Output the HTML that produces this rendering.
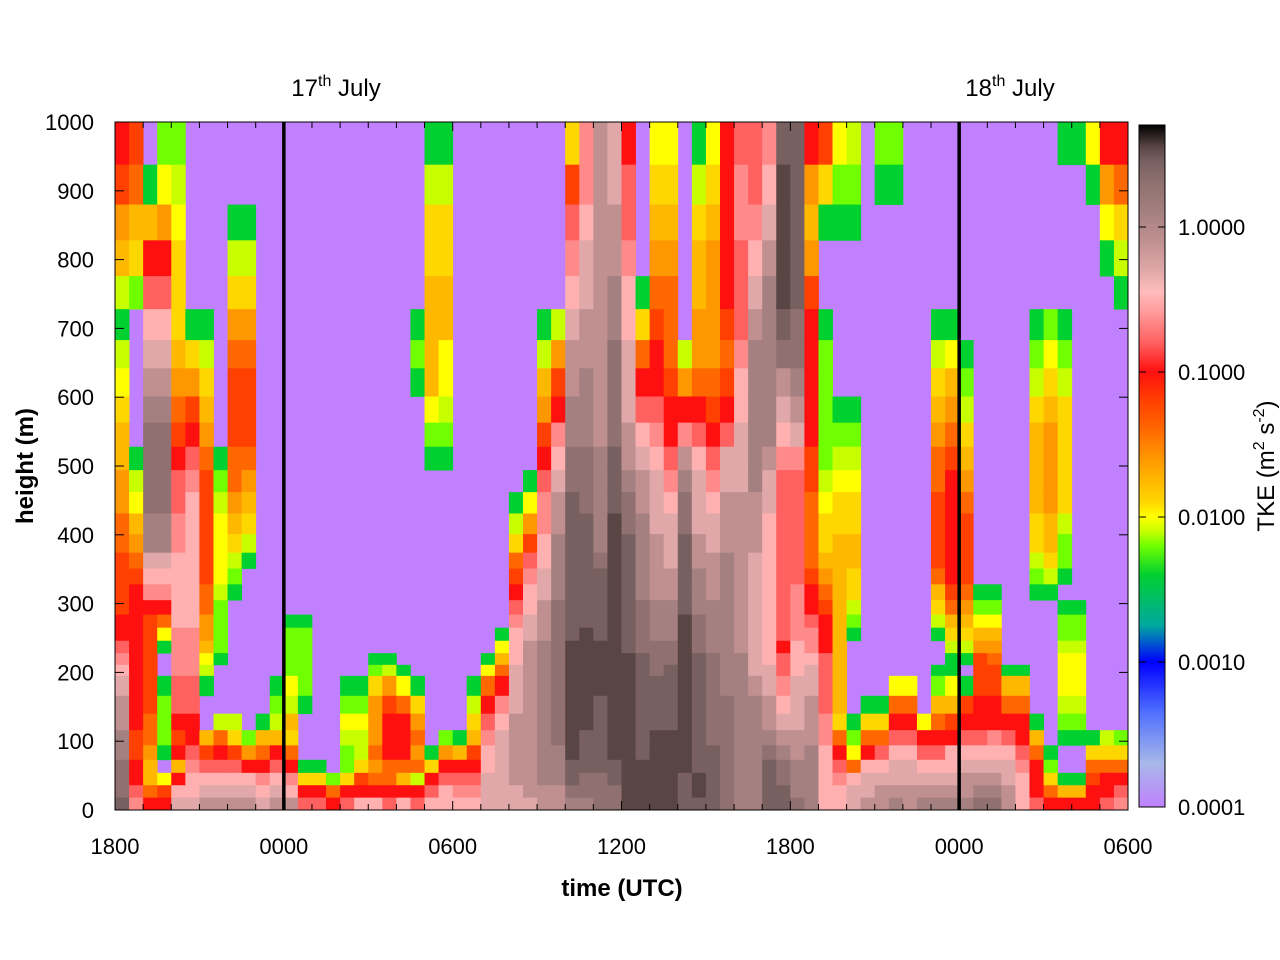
<!DOCTYPE html>
<html><head><meta charset="utf-8">
<style>
html,body{margin:0;padding:0;background:#fff;}
svg{display:block;font-family:"Liberation Sans",sans-serif;}
</style></head>
<body>
<svg id="chart" width="1280" height="960" viewBox="0 0 1280 960" xmlns="http://www.w3.org/2000/svg">
<g id="cells"></g>
<g id="axes"></g>
<g id="cbar"></g>
<text x="622" y="896" font-size="24" font-weight="bold" text-anchor="middle">time (UTC)</text>
<text transform="translate(33,466) rotate(-90)" font-size="24" font-weight="bold" text-anchor="middle">height (m)</text>
<text x="336" y="96" font-size="24" text-anchor="middle">17<tspan font-size="16" dy="-10">th</tspan><tspan dy="10"> July</tspan></text>
<text x="1010" y="96" font-size="24" text-anchor="middle">18<tspan font-size="16" dy="-10">th</tspan><tspan dy="10"> July</tspan></text>
<text transform="translate(1274,466) rotate(-90)" font-size="24" text-anchor="middle">TKE (m<tspan font-size="16" dy="-10">2</tspan><tspan dy="10"> s</tspan><tspan font-size="16" dy="-10">-2</tspan><tspan dy="10">)</tspan></text>
</svg>
<script>
// height-level edges (m), top to bottom
const heightEdges = [1000,938,880,828,776,728,683,642,601,563,528,494,462,431,401,374,351,328,305,284,265,246,228,211,195,166,140,116,94,73,54,36,18,0];
// column start times in hours after 1800 (half-hour columns)
const colStep = 0.5;
// level code -> log10(TKE)
const levelCodes = ".glvyYaoOerstkqmndDx";
const levelLog = [-4,-2.4,-2.2,-2.1,-2.0,-1.9,-1.75,-1.6,-1.4,-1.2,-1.0,-0.8,-0.65,-0.5,-0.3,-0.1,0.1,0.3,0.45,0.55];
const D = n => ".".repeat(n);
// each column: levels top (1000 m) to bottom (0 m)
const columns = [
"reoavgvyYaaooOOeeeerrstkqmmnndddD",
"eOaYl.....gvyaoOerrrrrrrrrreerrst",
".garskqmnddddnnqktreeeeeeeOOoaaOr",
"lyorskqmnddddnnqktrOyg..glllg.yer",
"lvyYYYaoOerssttkkkkkttttssrerarkq",
".....gYoerstkkkkkkkkttttssrrstkkq",
".....gvYaoOeeeeeeOOooayvg..aeskqm",
"..........glvyyyyvllllg...vOrskqm",
"..gvYoOeeeOOoaYvlg........vYeskqm",
"..gvYoOeeeOoaYvg...........lorkqm",
D(26)+"gaOrtkq",
D(24)+"glvarskqm",
D(19)+"gllllyvaYOrtkm",
D(19)+"glllllg...gYrs",
D(29)+"gYrs",
D(30)+"lOr",
D(24)+"glyvllYrs",
D(24)+"glyvvYerk",
D(22)+"glYoooOoOrk",
D(22)+"gvoerrrOOrs",
D(23)+"gyOrrrOark",
"....."+"glg"+D(16)+"gYoOoOvrs",
"gvYYaaaaylg"+D(17)+"gYrsk",
"gvYYaayyvlg"+D(16)+"lorskk",
D(27)+"garstk",
D(24)+"gvYaerstk",
D(22)+"gyOrstkkqqq",
D(20)+"gyaOrtkqqqqqq",
D(12)+"gvYOerstkkkqqqmmmmmqq",
D(11)+"gyoestkkqqmmmmmmmmmmmq",
D(5)+"gvaoersttkkqqmmmnnnnnnnnnnmm",
D(5)+"voertkqmmnnnnddddddddddnnnmm",
"YestkqmmnnddDDDDDDDDDxxxxxxxxDDdn",
"ttkqqmmnnndddDDDDDDDxxxxxxxDDDddn",
"mmmmmmmmmmnnnnndDDDDDxxxxDDDDDddd",
"qqmmnnddddDDDxxxxxxxxxxxxxxxxDDdd",
"rsstkkqqqmmnddDDDDDDDDxxxxxxxxxxx",
"....gYOrskqmmnnnnnddddDDDDDDDxxxx",
"yYaoOerrstkqqqmmmmnnndddDDDxxxxxx",
"yYaoOOOerrstkqqqmmnnnddDDDDxxxxxx",
"......vortmnddDDDDDxxxxxxxxxxxDDD",
"gvYaaooOrskqqqmmnnndddDDDDDDDDxxD",
"yYaooooOerstkqqmmmnnnnddddddDDDDD",
"rrrrreOersqqmmmnnnnnnnnnnddddddddd".slice(0,33),
"sttssstkkqqqmmmmmmmmmmnnnnnnnnnnn",
"sstkqmnnnnnnmmmqqqqqqqqqmnnnnnnnn",
"tkqmnnnnnnmqqkkkkkkkkkkqqmmndDDDD",
"DxxxxDdmqktssssssssssrsstkqmnddDD",
"DDDDDddnmqtssssssttttkkkqqqmmnnndd".slice(0,33),
"roaoerrrrreeOOOOerrsttkqqmmmnnnnn",
"eYg..glllllvyYYaoOerrrssssttkkkkkq".slice(0,33),
"ylg.....glvyYYaaaaaaaaaaaaYOrstkk",
"vlg.....glvyYYaaYYvlg.....glyOkqq",
D(25)+"gYOrkqqm",
"lg"+D(23)+"gYOskqmm",
"lg"+D(22)+"yOrskqqmn",
D(24)+"yOrskqqmm",
D(26)+"yrskqmn",
".....gvYaoOOeeeeOaYvg..glaOrskqmn",
".....gyaoOerrrrrreOaYvggyaerkkqmn",
"......glvYaoOeeeeOoaYvg.gerskqmmn",
D(17)+"glyaoeeerrskqmnd",
D(17)+"glyaoOeerrtkqmnd",
D(23)+"gaOrskqqmm",
D(23)+"gaOrrstkkk",
"....."+"glvYaaaaYYvlg"+D(8)+"gaOrrrs",
"....."+"lyYaooooaaYvg"+D(10)+"glYOr",
"g...."+"glvYYYYYvllg"+"."+"gllvyyyvlg"+"..gar",
"g"+D(17)+"gllvyyyvlg"+"..gar",
"yg"+D(25)+"gYOerr",
"royg"+D(23)+"vYOrrs",
"rOYvg"+D(22)+"lYOrst"
];
const cbTicks = [1, 0.1, 0.01, 0.001, 0.0001];
const cbTickLabels = ["1.0000","0.1000","0.0100","0.0010","0.0001"];
const xTickHours = [0,6,12,18,24,30,36];
const xTickLabels = ["1800","0000","0600","1200","1800","0000","0600"];
const yTicks = [0,100,200,300,400,500,600,700,800,900,1000];
const midnightHours = [6,30];

// colour scale stops (log10 value -> colour)
const stopLog = [-4,-3.7,-3.35,-3.0,-2.75,-2.4,-2.2,-2.1,-2.0,-1.9,-1.75,-1.6,-1.4,-1.2,-1.0,-0.8,-0.6,-0.45,-0.3,-0.1,0.1,0.3,0.45,0.55,0.7];
const stopCol = ["#c080ff","#a8b8e8","#5070ff","#0000ff","#00a8a0","#00d030","#70ff00","#c8ff00","#ffff00","#ffd700","#ffb800","#ff9800","#ff6800","#ff4000","#ff1010","#ff6060","#ff9898","#ffbcbc","#e0a8a8","#c09090","#a58080","#907070","#786060","#5a4545","#000000"];

const X0=115,X1=1128,Y0=122,Y1=810;
const xs = h => X0 + h*(X1-X0)/36;
const ys = m => Y1 - m*(Y1-Y0)/1000;
const cbY = lg => 807 - (lg+4)*145;
function hex(c){return [1,3,5].map(i=>parseInt(c.substr(i,2),16));}
function colorOf(lg){
  if(lg<=stopLog[0]) return stopCol[0];
  for(let i=1;i<stopLog.length;i++){
    if(lg<=stopLog[i]){
      const t=(lg-stopLog[i-1])/(stopLog[i]-stopLog[i-1]);
      const a=hex(stopCol[i-1]),b=hex(stopCol[i]);
      return "rgb("+a.map((v,k)=>Math.round(v+(b[k]-v)*t)).join(",")+")";
    }
  }
  return stopCol[stopCol.length-1];
}
const NS="http://www.w3.org/2000/svg";
function mk(tag,attrs,parent){const e=document.createElementNS(NS,tag);for(const k in attrs)e.setAttribute(k,attrs[k]);parent.appendChild(e);return e;}

const cells=document.getElementById('cells');
mk('rect',{x:X0,y:Y0,width:X1-X0,height:Y1-Y0,fill:"#c080ff"},cells);
columns.forEach((col,ci)=>{
  for(let r=0;r<heightEdges.length-1;r++){
    const code=col[r]||'.';
    if(code==='.') continue;
    const lg=levelLog[levelCodes.indexOf(code)];
    const xa=xs(ci*colStep), xb=xs((ci+1)*colStep);
    const ya=ys(heightEdges[r]), yb=ys(heightEdges[r+1]);
    const el=mk('rect',{x:xa.toFixed(2),y:ya.toFixed(2),width:(xb-xa+0.4).toFixed(2),height:(yb-ya+0.4).toFixed(2),fill:colorOf(lg)},cells);
    
    
  }
});

const axes=document.getElementById('axes');
midnightHours.forEach(h=>{
  const l=mk('line',{x1:xs(h),x2:xs(h),y1:Y0,y2:Y1,stroke:"#000","stroke-width":3.5},axes);
  
  
});
mk('rect',{x:X0,y:Y0,width:X1-X0,height:Y1-Y0,fill:"none",stroke:"#000","stroke-width":1},axes);
for(let h=0;h<=36;h++){
  const len = xTickHours.includes(h)?9:6;
  mk('line',{x1:xs(h),x2:xs(h),y1:Y1,y2:Y1-len,stroke:"#000"},axes);
  mk('line',{x1:xs(h),x2:xs(h),y1:Y0,y2:Y0+len,stroke:"#000"},axes);
}
xTickHours.forEach((h,i)=>{
  const t=mk('text',{x:xs(h),y:854,"font-size":22,"text-anchor":"middle"},axes);
  t.textContent=xTickLabels[i];
  
  
});
yTicks.forEach(m=>{
  mk('line',{x1:X0,x2:X0+9,y1:ys(m),y2:ys(m),stroke:"#000"},axes);
  mk('line',{x1:X1,x2:X1-9,y1:ys(m),y2:ys(m),stroke:"#000"},axes);
  const t=mk('text',{x:94,y:ys(m)+8,"font-size":22,"text-anchor":"end"},axes);
  t.textContent=String(m);
  
  
});

const cb=document.getElementById('cbar');
const defs=mk('defs',{},cb);
const grad=mk('linearGradient',{id:"cbg",x1:0,y1:1,x2:0,y2:0},defs);
stopLog.forEach((lg,i)=>{mk('stop',{offset:((lg+4)/4.7).toFixed(4),"stop-color":stopCol[i]},grad);});
mk('rect',{x:1139,y:125,width:26,height:682,fill:"url(#cbg)",stroke:"#000","stroke-width":1},cb);
cbTicks.forEach((v,i)=>{
  const y=cbY(Math.log10(v));
  mk('line',{x1:1139,x2:1146,y1:y,y2:y,stroke:"#000"},cb);
  mk('line',{x1:1165,x2:1158,y1:y,y2:y,stroke:"#000"},cb);
  const t=mk('text',{x:1178,y:y+8,"font-size":22},cb);
  t.textContent=cbTickLabels[i];
  
  
});
</script>
</body></html>
